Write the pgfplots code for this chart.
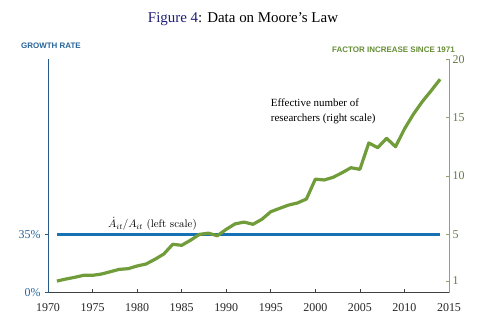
\documentclass[border=0pt]{standalone}
\usepackage{pgfplots}
\pgfplotsset{compat=1.18}
\usepackage{fontspec}
\setmainfont{Liberation Serif}
\setsansfont{Liberation Sans}
\newfontfamily\lmr{lmroman10-regular.otf}

\definecolor{rateblue}{RGB}{24,113,178}
\definecolor{axisblue}{RGB}{40,90,135}
\definecolor{labelblue}{RGB}{38,100,155}
\definecolor{resgreen}{RGB}{112,156,58}
\definecolor{axisgreen}{RGB}{140,165,110}
\definecolor{tickgreen}{RGB}{100,120,70}
\definecolor{titlenavy}{RGB}{30,30,120}

% Effective number of researchers, factor increase since 1971
\pgfplotstableread{
year value
1971 1.00
1972 1.17
1973 1.32
1974 1.49
1975 1.49
1976 1.60
1977 1.80
1978 2.00
1979 2.06
1980 2.29
1981 2.46
1982 2.86
1983 3.32
1984 4.15
1985 4.06
1986 4.50
1987 5.00
1988 5.10
1989 4.88
1990 5.43
1991 5.90
1992 6.05
1993 5.86
1994 6.29
1995 6.94
1996 7.23
1997 7.51
1998 7.69
1999 8.03
2000 9.73
2001 9.66
2002 9.89
2003 10.28
2004 10.71
2005 10.57
2006 12.83
2007 12.43
2008 13.23
2009 12.51
2010 14.03
2011 15.29
2012 16.37
2013 17.31
2014 18.29
}\researchers

% Growth rate of the number of transistors, percent per year
\pgfplotstableread{
year rate
1971 35
2014 35
}\growth

\pgfplotsset{
  /pgf/number format/assume math mode=true,
  common/.style={
    at={(48bp,40.3bp)}, anchor=south west,
    scale only axis, width=401bp, height=233.4bp,
    xmin=1970, xmax=2015,
    tick align=inside,
    major tick length=3.5bp,
    clip=false,
  },
}

\begin{document}
\begin{tikzpicture}[x=1bp,y=1bp]
\path[use as bounding box] (0,0) rectangle (497,333);

% left scale: growth rate
\begin{axis}[
  common,
  ymin=0, ymax=140,
  axis x line*=bottom, axis y line*=left,
  x axis line style={black!75, line width=0.8bp},
  y axis line style={axisblue, line width=0.8bp},
  xtick={1970,1975,...,2015},
  x tick style={black!75, line width=0.6bp},
  xticklabel style={font=\fontsize{12}{14}\selectfont, text=black!85, yshift=-7bp,
    /pgf/number format/1000 sep={}},
  ytick={0,35}, yticklabels={0\%,35\%},
  y tick style={axisblue, line width=0.6bp, xshift=-3.5bp},
  yticklabel style={font=\fontsize{12}{14}\selectfont, text=labelblue, xshift=-4bp},
]
\addplot[rateblue, line width=3.4bp] table[x=year, y=rate] {\growth};
\end{axis}

% right scale: researchers
\begin{axis}[
  common,
  ymin=0, ymax=20,
  axis x line=none, axis y line*=right,
  y axis line style={axisgreen, line width=0.8bp},
  ytick={1,5,10,15,20},
  y tick style={axisgreen, line width=0.6bp},
  yticklabel style={font=\fontsize{12}{14}\selectfont, text=tickgreen},
]
\addplot[resgreen, line width=3.2bp, line join=round] table[x=year, y=value] {\researchers};
\end{axis}

\node[anchor=base, font=\fontsize{15}{18}\selectfont] at (243,310.7)
  {\textcolor{titlenavy}{Figure 4}: Data on Moore's Law};
\node[anchor=base, font=\sffamily\bfseries\fontsize{8}{10}\selectfont, text=labelblue]
  at (51,284.3) {GROWTH RATE};
\node[anchor=base, font=\sffamily\bfseries\fontsize{8}{10}\selectfont, text=resgreen!90!black]
  at (393.5,281) {FACTOR INCREASE SINCE 1971};
\node[anchor=base west, font=\fontsize{11}{13}\selectfont, inner sep=0pt]
  at (270.7,226.7) {Effective number of};
\node[anchor=base west, font=\fontsize{11}{13}\selectfont, inner sep=0pt]
  at (270.7,211.7) {researchers (right scale)};
\node[anchor=base west, font=\lmr\fontsize{11}{13}\selectfont, inner sep=0pt]
  at (108,105.5) {$\dot{A}_{it}/A_{it}$ (left scale)};
\end{tikzpicture}
\end{document}
